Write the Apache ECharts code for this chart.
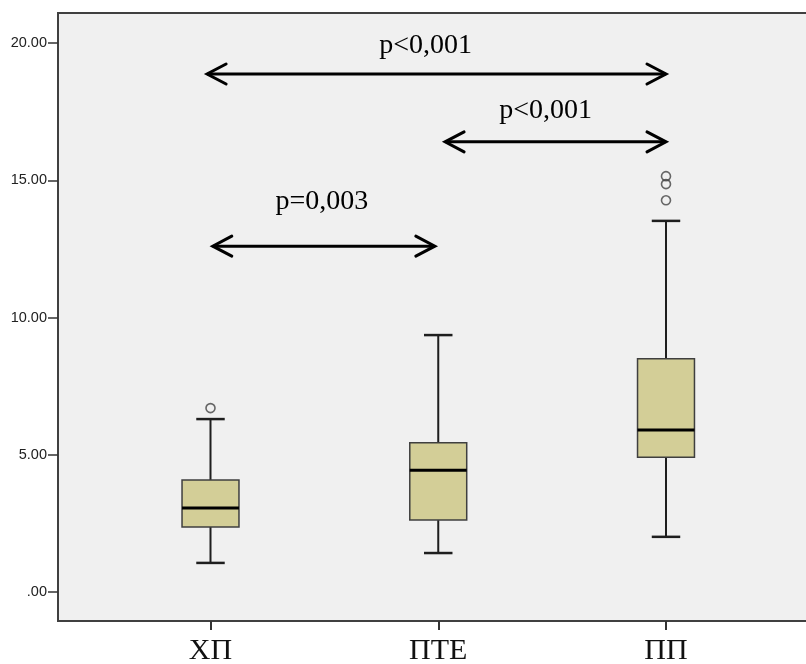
<!DOCTYPE html>
<html>
<head>
<meta charset="utf-8">
<script src="https://cdn.jsdelivr.net/npm/echarts@6/dist/echarts.min.js"></script>
<style>
  html, body { margin: 0; padding: 0; background: #ffffff; }
  #chart { width: 806px; height: 664px; }
</style>
</head>
<body>
<div id="chart"></div>
<script>
// Groups on the horizontal axis
const categories = ['ХП', 'ПТЕ', 'ПП'];

// Five-number summary of each group
const lowerWhisker = [1.06, 1.42, 2.01];
const quartile1    = [2.37, 2.62, 4.91];
const medians      = [3.06, 4.44, 5.90];
const quartile3    = [4.08, 5.44, 8.50];
const upperWhisker = [6.30, 9.36, 13.52];

// Outlying observations: [group index, value]
const outliers = [[0, 6.70], [2, 14.27], [2, 14.86], [2, 15.15]];

// Value-axis ticks
const yTicks = [0, 5, 10, 15, 20];

// Pairwise comparisons: arrow ends (group positions), arrow height, p-value text
const compareFrom  = [-0.015, 1.03, 0.01];
const compareTo    = [2.0, 2.0, 0.985];
const compareLevel = [18.87, 16.40, 12.60];
const compareText  = ['p<0,001', 'p<0,001', 'p=0,003'];

// Pixel shift of each p-value caption from its arrow's midpoint
const captionShift = [[-11, -28], [-10, -31], [-2, -44]];

const boxData = categories.map((c, i) => [i, lowerWhisker[i], quartile1[i], medians[i], quartile3[i], upperWhisker[i]]);
const arrowData = compareText.map((t, i) => [compareFrom[i], compareTo[i], compareLevel[i]]);

function renderBox(params, api) {
  const x = api.value(0);
  const lo = api.coord([x, api.value(1)]);
  const q1 = api.coord([x, api.value(2)]);
  const md = api.coord([x, api.value(3)]);
  const q3 = api.coord([x, api.value(4)]);
  const hi = api.coord([x, api.value(5)]);
  const cx = lo[0];
  const bw = api.size([0.25, 0])[0];
  const cw = bw / 2;
  const whisker = { stroke: '#1e1e1e', lineWidth: 2 };
  return {
    type: 'group',
    children: [
      { type: 'line', shape: { x1: cx, y1: hi[1], x2: cx, y2: q3[1] }, style: whisker },
      { type: 'line', shape: { x1: cx, y1: q1[1], x2: cx, y2: lo[1] }, style: whisker },
      { type: 'line', shape: { x1: cx - cw / 2, y1: hi[1], x2: cx + cw / 2, y2: hi[1] }, style: { stroke: '#1e1e1e', lineWidth: 2.5 } },
      { type: 'line', shape: { x1: cx - cw / 2, y1: lo[1], x2: cx + cw / 2, y2: lo[1] }, style: { stroke: '#1e1e1e', lineWidth: 2.5 } },
      { type: 'rect', shape: { x: cx - bw / 2, y: q3[1], width: bw, height: q1[1] - q3[1] },
        style: { fill: '#d3ce97', stroke: '#3f3f3f', lineWidth: 1.5 } },
      { type: 'line', shape: { x1: cx - bw / 2, y1: md[1], x2: cx + bw / 2, y2: md[1] }, style: { stroke: '#000', lineWidth: 3 } }
    ]
  };
}

function renderArrow(params, api) {
  const i = params.dataIndex;
  const a = api.coord([api.value(0), api.value(2)]);
  const b = api.coord([api.value(1), api.value(2)]);
  const hl = 19, hh = 10;
  const st = { stroke: '#000', lineWidth: 3, fill: null, lineCap: 'round', lineJoin: 'miter' };
  const sh = captionShift[i];
  return {
    type: 'group',
    children: [
      { type: 'line', shape: { x1: a[0] + 1, y1: a[1], x2: b[0] - 1, y2: b[1] }, style: st },
      { type: 'polyline', shape: { points: [[a[0] + hl, a[1] - hh], [a[0], a[1]], [a[0] + hl, a[1] + hh]] }, style: st },
      { type: 'polyline', shape: { points: [[b[0] - hl, b[1] - hh], [b[0], b[1]], [b[0] - hl, b[1] + hh]] }, style: st },
      { type: 'text', x: (a[0] + b[0]) / 2 + sh[0], y: a[1] + sh[1],
        style: { text: compareText[i], font: '28px "Liberation Serif", "Times New Roman", serif', fill: '#000', align: 'center', verticalAlign: 'middle' } }
    ]
  };
}

const chart = echarts.init(document.getElementById('chart'), null, { renderer: 'canvas' });
chart.setOption({
  animation: false,
  backgroundColor: '#ffffff',
  grid: {
    left: 58, top: 13, right: -12.5, bottom: 43,
    show: true, backgroundColor: '#f0f0f0', borderColor: '#404040', borderWidth: 2,
    containLabel: false, outerBoundsMode: 'none'
  },
  xAxis: {
    type: 'value', min: -0.6696, max: 2.6696,
    splitLine: { show: false },
    axisLine: { show: false, onZero: false },
    axisTick: { show: true, customValues: [0, 1, 2], length: 9, lineStyle: { color: '#333', width: 2 } },
    axisLabel: {
      customValues: [0, 1, 2],
      formatter: v => categories[Math.round(v)],
      fontFamily: '"Liberation Serif", "Times New Roman", serif', fontSize: 30, color: '#111', margin: 15
    }
  },
  yAxis: {
    type: 'value', min: -1.056, max: 21.093,
    splitLine: { show: false },
    axisLine: { show: false, onZero: false },
    axisTick: { show: true, customValues: yTicks, length: 10, lineStyle: { color: '#333', width: 1.5 } },
    axisLabel: {
      customValues: yTicks,
      formatter: v => (v === 0 ? '.00' : v.toFixed(2)),
      fontFamily: '"Liberation Sans", Arial, sans-serif', fontSize: 14.5, color: '#222', margin: 11
    }
  },
  series: [
    { type: 'custom', name: 'box', renderItem: renderBox, data: boxData, encode: { x: 0, y: [1, 2, 3, 4, 5] }, z: 2 },
    { type: 'scatter', name: 'outliers', data: outliers, symbol: 'circle', symbolSize: 9,
      itemStyle: { color: 'rgba(0,0,0,0)', borderColor: '#444', borderWidth: 1.6 }, z: 3 },
    { type: 'custom', name: 'comparisons', renderItem: renderArrow, data: arrowData, encode: { x: [0, 1], y: 2 }, z: 4, clip: false }
  ]
});
</script>
</body>
</html>
